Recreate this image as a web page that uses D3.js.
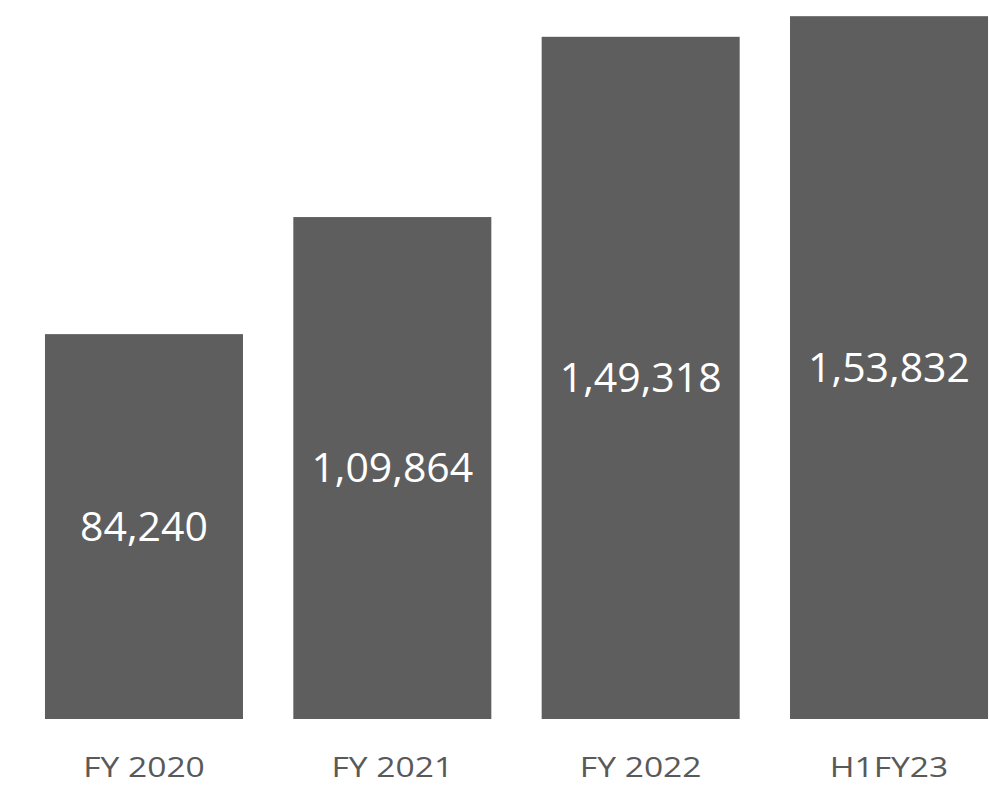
<!DOCTYPE html>
<html>
<head>
    <meta charset="utf-8" />
    <title>Bar chart</title>
    <script type="text/javascript" src="https://cdn.jsdelivr.net/npm/d3@7"></script>
    <style>
        body { margin: 0; background: #fff; }
    </style>
</head>
<body>
    <div id="chart"></div>
    <script>
        // data
        var categories = ["FY 2020", "FY 2021", "FY 2022", "H1FY23"];
        var values = [84240, 109864, 149318, 153832];
        var valueLabels = ["84,240", "1,09,864", "1,49,318", "1,53,832"];

        var w = 989;
        var h = 793;

        var svg = d3.select("#chart")
            .append("svg")
            .attr("width", w)
            .attr("height", h);

        var x = d3.scaleBand()
            .domain(categories)
            .range([19.8, 1013.2])
            .paddingInner(0.2027)
            .paddingOuter(0.10135);

        var y = d3.scaleLinear()
            .domain([0, 160000])
            .range([719, -12]);

        var bars = svg.selectAll("g.bar")
            .data(categories)
            .enter()
            .append("g")
            .attr("class", "bar");

        bars.append("rect")
            .attr("x", function (d) { return x(d); })
            .attr("y", function (d, i) { return y(values[i]); })
            .attr("width", x.bandwidth())
            .attr("height", function (d, i) { return y(0) - y(values[i]); })
            .attr("fill", "#5e5e5e");

        // value labels in the middle of each bar
        bars.append("text")
            .text(function (d, i) { return valueLabels[i]; })
            .attr("x", function (d) { return x(d) + x.bandwidth() / 2; })
            .attr("y", function (d, i) { return (y(values[i]) + y(0)) / 2; })
            .attr("dy", "0.35em")
            .attr("text-anchor", "middle")
            .attr("font-family", "Open Sans")
            .attr("font-size", "41px")
            .attr("fill", "#ffffff");

        // category labels (the source font is a bit wider, so stretch a little)
        bars.append("g")
            .attr("transform", function (d) {
                return "translate(" + (x(d) + x.bandwidth() / 2) + ",777) scale(1.2,1)";
            })
            .append("text")
            .text(function (d) { return d; })
            .attr("text-anchor", "middle")
            .attr("font-family", "Open Sans")
            .attr("font-size", "28px")
            .attr("fill", "#595959");
    </script>
</body>
</html>
